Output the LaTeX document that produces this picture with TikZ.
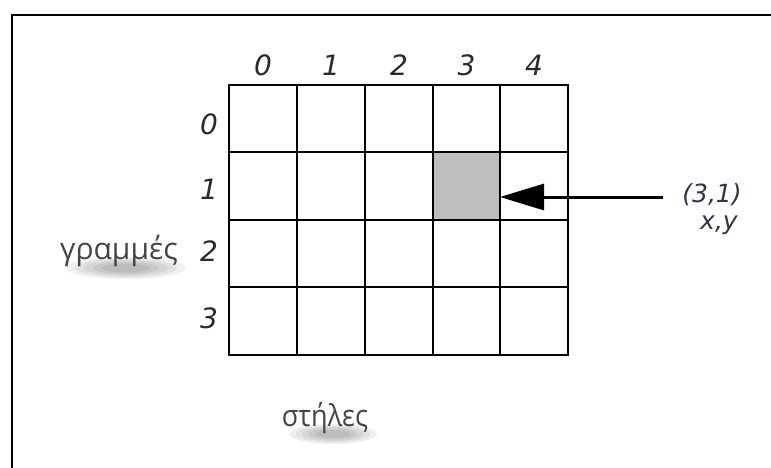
\documentclass[tikz,border=0pt]{standalone}
\usepackage{fontspec}
\setmainfont{DejaVu Sans}
\newfontfamily\greekfont{Open Sans}
\usetikzlibrary{arrows.meta}
\definecolor{numcol}{HTML}{2A2A2A}
\definecolor{lblcol}{HTML}{33334A}
\definecolor{cellgray}{HTML}{BEBEBE}
\definecolor{greekcol}{HTML}{454545}
\tikzset{
  cellbox/.style={draw=none, inner sep=0pt, outer sep=0pt},
  gridline/.style={draw=black, line width=2pt, line cap=rect},
  numlbl/.style={font=\fontsize{28}{31}\selectfont\itshape, text=numcol, inner sep=0pt},
  coordlbl/.style={font=\fontsize{25}{28}\selectfont\itshape, text=lblcol, inner sep=0pt},
  greeklbl/.style={font=\greekfont\fontsize{30}{33}\selectfont, text=greekcol, inner sep=0pt},
  softshadow/.style={fill=black, opacity=0.06, draw=none},
}
\begin{document}
\begin{tikzpicture}[x=1pt,y=-1pt]
\useasboundingbox (0,0) rectangle (771,468);
% outer frame (top and left only visible)
\draw[line width=2.2pt, black] (12,468) -- (12,15) -- (771,15);
% grid cells (named), explicit integer borders
\def\xs{{229,297,365,433,500,568}}
\def\ys{{85,152,220,287,355}}
\foreach \i in {0,...,4} {
  \foreach \j in {0,...,3} {
    \pgfmathsetmacro{\xa}{\xs[\i]}
    \pgfmathsetmacro{\xb}{\xs[\i+1]}
    \pgfmathsetmacro{\ya}{\ys[\j]}
    \pgfmathsetmacro{\yb}{\ys[\j+1]}
    \node[cellbox, minimum width={(\xb-\xa)*1pt}, minimum height={(\yb-\ya)*1pt}] (c\i\j) at ({(\xa+\xb)/2},{(\ya+\yb)/2}) {};
  }
}
\fill[cellgray] (c31.north west) rectangle (c31.south east);
% grid lines
\foreach \x in {229,297,365,433,500,568} {
  \draw[gridline] (\x,85) -- (\x,355);
}
\foreach \y in {85,152,220,287,355} {
  \draw[gridline] (229,\y) -- (568,\y);
}
% column labels
\foreach \i in {0,...,4} {
  \node[numlbl] (col\i) at (c\i0.north |- 0,65) {\i};
}
% row labels
\foreach \j/\yy in {0/124,1/189,2/251,3/318} {
  \node[numlbl] (row\j) at (209,\yy) {\j};
}
% arrow
\coordinate (astart) at (663,197);
\draw[line width=3pt, -{Triangle[length=44pt,width=26pt]}] (astart) -- (c31.east |- astart);
% coordinate label
\node[coordlbl] (pt) at (712,195) {(3,1)};
\node[coordlbl] (xy) at (719,225) {x,y};
% soft shadows under the greek labels
\foreach \r in {1.0,0.85,0.7,0.55,0.4} {
  \fill[softshadow] (126,268) ellipse ({60*\r} and {11*\r});
  \fill[softshadow] (333,434) ellipse ({44*\r} and {10*\r});
}
\node[greeklbl] (rows) at (119,251) {γραμμές};
\node[greeklbl] (cols) at (325,418) {\scalebox{0.9}[1]{στήλες}};
\end{tikzpicture}
\end{document}
